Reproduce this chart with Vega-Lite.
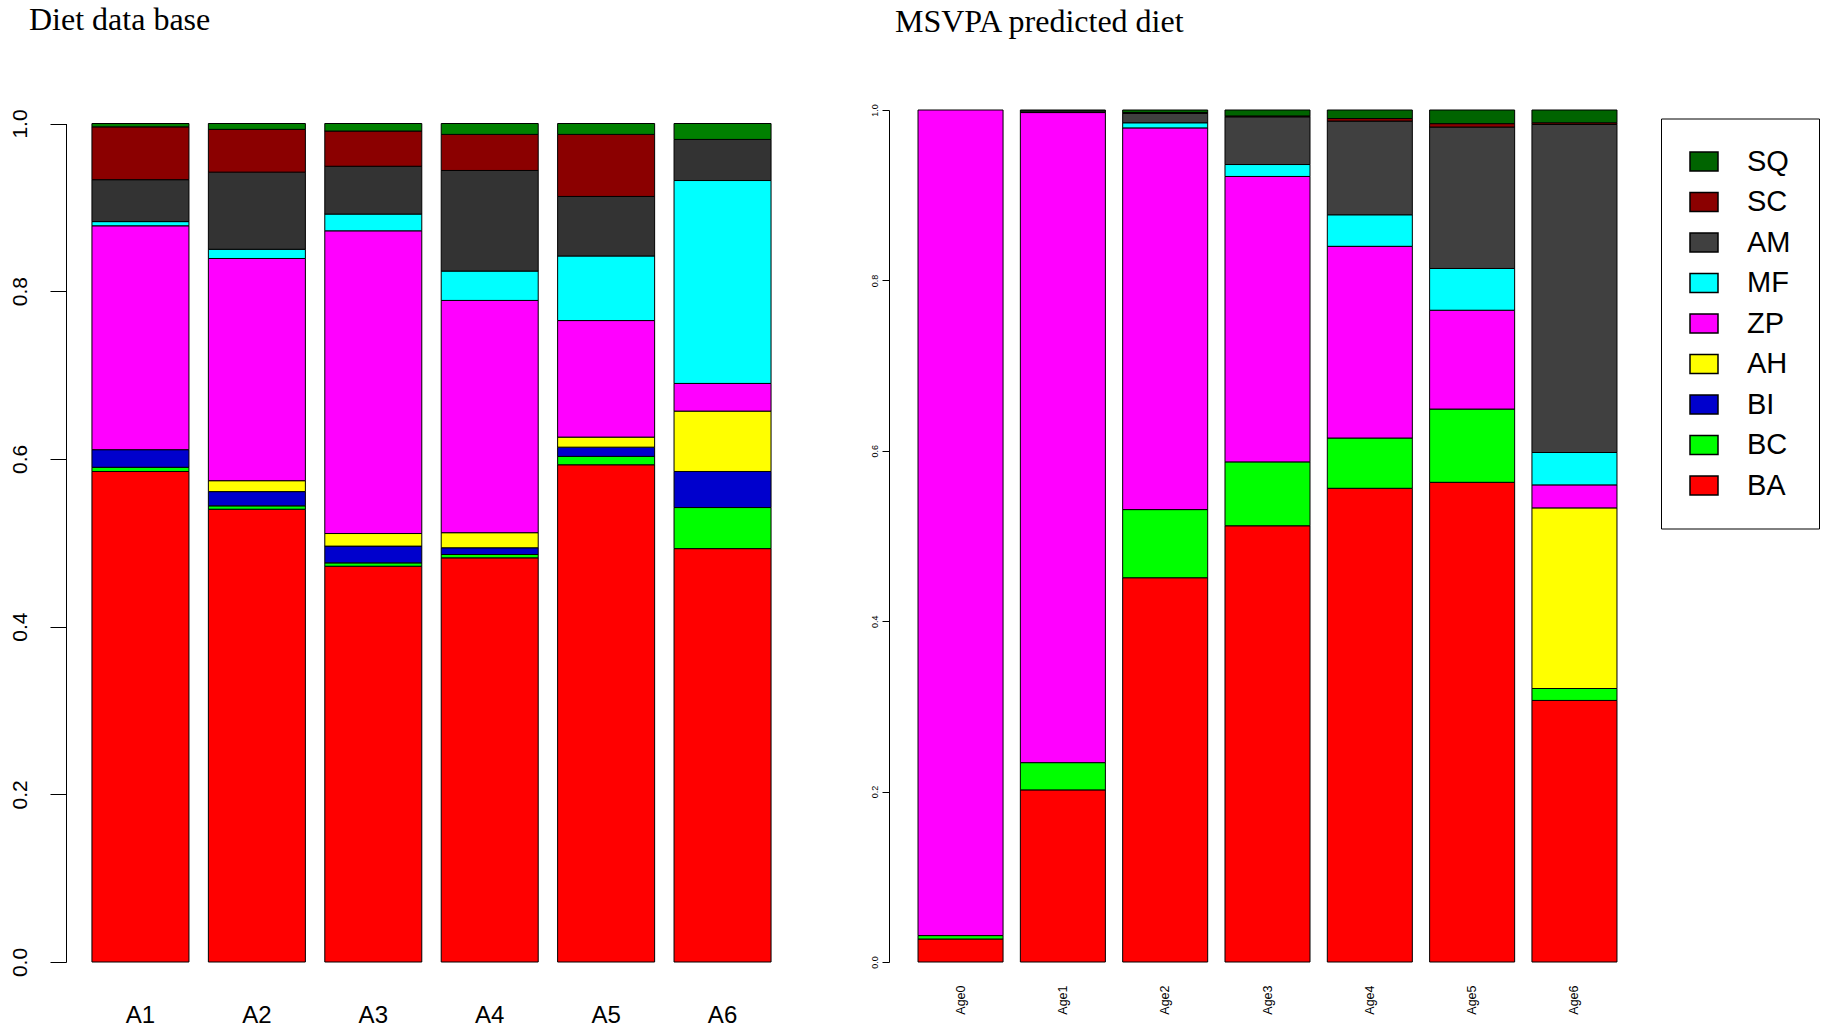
{
  "$schema": "https://vega.github.io/schema/vega-lite/v6.json",
  "padding": {"left": 9, "top": 4, "right": 5, "bottom": 5},
  "background": "white",
  "config": {
    "view": {"stroke": null},
    "font": "Liberation Sans",
    "axis": {"domainColor": "black", "tickColor": "black", "labelColor": "black", "grid": false, "title": null, "domainWidth": 1, "tickWidth": 1}
  },
  "datasets": {
    "db": [
      {"group": "A1", "prey": "BA", "share": 0.585},
      {"group": "A1", "prey": "BC", "share": 0.005},
      {"group": "A1", "prey": "BI", "share": 0.021},
      {"group": "A1", "prey": "ZP", "share": 0.267},
      {"group": "A1", "prey": "MF", "share": 0.005},
      {"group": "A1", "prey": "AM", "share": 0.050},
      {"group": "A1", "prey": "SC", "share": 0.063},
      {"group": "A1", "prey": "SQ", "share": 0.004},
      {"group": "A2", "prey": "BA", "share": 0.540},
      {"group": "A2", "prey": "BC", "share": 0.004},
      {"group": "A2", "prey": "BI", "share": 0.017},
      {"group": "A2", "prey": "AH", "share": 0.013},
      {"group": "A2", "prey": "ZP", "share": 0.265},
      {"group": "A2", "prey": "MF", "share": 0.011},
      {"group": "A2", "prey": "AM", "share": 0.092},
      {"group": "A2", "prey": "SC", "share": 0.051},
      {"group": "A2", "prey": "SQ", "share": 0.007},
      {"group": "A3", "prey": "BA", "share": 0.472},
      {"group": "A3", "prey": "BC", "share": 0.004},
      {"group": "A3", "prey": "BI", "share": 0.020},
      {"group": "A3", "prey": "AH", "share": 0.015},
      {"group": "A3", "prey": "ZP", "share": 0.361},
      {"group": "A3", "prey": "MF", "share": 0.020},
      {"group": "A3", "prey": "AM", "share": 0.057},
      {"group": "A3", "prey": "SC", "share": 0.042},
      {"group": "A3", "prey": "SQ", "share": 0.009},
      {"group": "A4", "prey": "BA", "share": 0.482},
      {"group": "A4", "prey": "BC", "share": 0.004},
      {"group": "A4", "prey": "BI", "share": 0.008},
      {"group": "A4", "prey": "AH", "share": 0.018},
      {"group": "A4", "prey": "ZP", "share": 0.277},
      {"group": "A4", "prey": "MF", "share": 0.035},
      {"group": "A4", "prey": "AM", "share": 0.120},
      {"group": "A4", "prey": "SC", "share": 0.043},
      {"group": "A4", "prey": "SQ", "share": 0.013},
      {"group": "A5", "prey": "BA", "share": 0.593},
      {"group": "A5", "prey": "BC", "share": 0.010},
      {"group": "A5", "prey": "BI", "share": 0.011},
      {"group": "A5", "prey": "AH", "share": 0.012},
      {"group": "A5", "prey": "ZP", "share": 0.139},
      {"group": "A5", "prey": "MF", "share": 0.077},
      {"group": "A5", "prey": "AM", "share": 0.071},
      {"group": "A5", "prey": "SC", "share": 0.074},
      {"group": "A5", "prey": "SQ", "share": 0.013},
      {"group": "A6", "prey": "BA", "share": 0.493},
      {"group": "A6", "prey": "BC", "share": 0.049},
      {"group": "A6", "prey": "BI", "share": 0.043},
      {"group": "A6", "prey": "AH", "share": 0.072},
      {"group": "A6", "prey": "ZP", "share": 0.033},
      {"group": "A6", "prey": "MF", "share": 0.242},
      {"group": "A6", "prey": "AM", "share": 0.049},
      {"group": "A6", "prey": "SQ", "share": 0.019}
    ],
    "ms": [
      {"group": "Age0", "prey": "BA", "share": 0.027},
      {"group": "Age0", "prey": "BC", "share": 0.004},
      {"group": "Age0", "prey": "ZP", "share": 0.969},
      {"group": "Age1", "prey": "BA", "share": 0.202},
      {"group": "Age1", "prey": "BC", "share": 0.032},
      {"group": "Age1", "prey": "ZP", "share": 0.763},
      {"group": "Age1", "prey": "AM", "share": 0.002},
      {"group": "Age1", "prey": "SQ", "share": 0.001},
      {"group": "Age2", "prey": "BA", "share": 0.451},
      {"group": "Age2", "prey": "BC", "share": 0.080},
      {"group": "Age2", "prey": "ZP", "share": 0.448},
      {"group": "Age2", "prey": "MF", "share": 0.006},
      {"group": "Age2", "prey": "AM", "share": 0.011},
      {"group": "Age2", "prey": "SC", "share": 0.001},
      {"group": "Age2", "prey": "SQ", "share": 0.003},
      {"group": "Age3", "prey": "BA", "share": 0.512},
      {"group": "Age3", "prey": "BC", "share": 0.075},
      {"group": "Age3", "prey": "ZP", "share": 0.335},
      {"group": "Age3", "prey": "MF", "share": 0.014},
      {"group": "Age3", "prey": "AM", "share": 0.056},
      {"group": "Age3", "prey": "SC", "share": 0.001},
      {"group": "Age3", "prey": "SQ", "share": 0.007},
      {"group": "Age4", "prey": "BA", "share": 0.556},
      {"group": "Age4", "prey": "BC", "share": 0.059},
      {"group": "Age4", "prey": "ZP", "share": 0.225},
      {"group": "Age4", "prey": "MF", "share": 0.037},
      {"group": "Age4", "prey": "AM", "share": 0.110},
      {"group": "Age4", "prey": "SC", "share": 0.003},
      {"group": "Age4", "prey": "SQ", "share": 0.010},
      {"group": "Age5", "prey": "BA", "share": 0.563},
      {"group": "Age5", "prey": "BC", "share": 0.086},
      {"group": "Age5", "prey": "ZP", "share": 0.116},
      {"group": "Age5", "prey": "MF", "share": 0.049},
      {"group": "Age5", "prey": "AM", "share": 0.166},
      {"group": "Age5", "prey": "SC", "share": 0.004},
      {"group": "Age5", "prey": "SQ", "share": 0.016},
      {"group": "Age6", "prey": "BA", "share": 0.307},
      {"group": "Age6", "prey": "BC", "share": 0.014},
      {"group": "Age6", "prey": "AH", "share": 0.212},
      {"group": "Age6", "prey": "ZP", "share": 0.027},
      {"group": "Age6", "prey": "MF", "share": 0.038},
      {"group": "Age6", "prey": "AM", "share": 0.385},
      {"group": "Age6", "prey": "SC", "share": 0.002},
      {"group": "Age6", "prey": "SQ", "share": 0.015}
    ]
  },
  "spacing": 82,
  "resolve": {"scale": {"color": "independent", "y": "independent", "x": "independent"}},
  "hconcat": [
    {
      "width": 711,
      "height": 852,
      "data": {"name": "db"},
      "title": {"text": "Diet data base", "anchor": "start", "dx": 20, "font": "Liberation Serif", "fontSize": 32, "fontWeight": "normal", "color": "black", "offset": 71.5},
      "transform": [{"calculate": "indexof(['BA','BC','BI','AH','ZP','MF','AM','SC','SQ'], datum.prey)", "as": "k"}],
      "mark": {"type": "bar", "stroke": "black", "strokeWidth": 1},
      "encoding": {
        "x": {"field": "group", "type": "nominal", "scale": {"paddingInner": 0.1667, "paddingOuter": 0.137},
          "axis": {"labelAngle": 0, "labelFontSize": 24, "labelPadding": 41, "ticks": false, "tickSize": 0, "domain": false}},
        "y": {"field": "share", "type": "quantitative", "stack": "zero", "scale": {"domain": [0, 1], "nice": false, "range": [852, 13.5]},
          "axis": {"values": [0, 0.2, 0.4, 0.6, 0.8, 1.0], "format": ".1f", "labelAngle": -90, "labelFontSize": 21, "tickSize": 16, "labelPadding": 20, "offset": 10}},
        "color": {"field": "prey", "type": "nominal",
          "scale": {"domain": ["SQ","SC","AM","MF","ZP","AH","BI","BC","BA"], "range": ["#008000","#8B0000","#333333","#00FFFF","#FF00FF","#FFFF00","#0000CD","#00FF00","#FF0000"]},
          "legend": null},
        "order": {"field": "k", "type": "quantitative"}
      }
    },
    {
      "width": 737,
      "height": 852,
      "data": {"name": "ms"},
      "title": {"text": "MSVPA predicted diet", "anchor": "start", "dx": 25, "font": "Liberation Serif", "fontSize": 32, "fontWeight": "normal", "color": "black", "offset": 65},
      "transform": [{"calculate": "indexof(['BA','BC','BI','AH','ZP','MF','AM','SC','SQ'], datum.prey)", "as": "k"}],
      "mark": {"type": "bar", "stroke": "black", "strokeWidth": 1},
      "encoding": {
        "x": {"field": "group", "type": "nominal", "scale": {"paddingInner": 0.169, "paddingOuter": 0.186},
          "axis": {"labelAngle": -90, "labelFontSize": 12.5, "labelPadding": 23, "ticks": false, "tickSize": 0, "domain": false}},
        "y": {"field": "share", "type": "quantitative", "stack": "zero", "scale": {"domain": [0, 1], "nice": false},
          "axis": {"values": [0, 0.2, 0.4, 0.6, 0.8, 1.0], "format": ".1f", "labelAngle": -90, "labelFontSize": 9, "tickSize": 7, "labelPadding": 3, "offset": 10}},
        "color": {"field": "prey", "type": "nominal",
          "scale": {"domain": ["SQ","SC","AM","MF","ZP","AH","BI","BC","BA"], "range": ["#006400","#8B0000","#404040","#00FFFF","#FF00FF","#FFFF00","#0000CD","#00FF00","#FF0000"]},
          "legend": {"orient": "none", "legendX": 762, "legendY": 8.5, "title": null,
            "symbolType": "M-1,-0.68H1V0.68H-1Z", "symbolSize": 784, "symbolStrokeColor": "black", "symbolStrokeWidth": 1.5,
            "labelFontSize": 29, "labelFont": "Liberation Sans", "labelColor": "black", "labelOffset": 28, "rowPadding": 10.5,
            "padding": 28, "strokeColor": "black", "fillColor": "white", "symbolOpacity": 1}},
        "order": {"field": "k", "type": "quantitative"}
      }
    }
  ]
}
